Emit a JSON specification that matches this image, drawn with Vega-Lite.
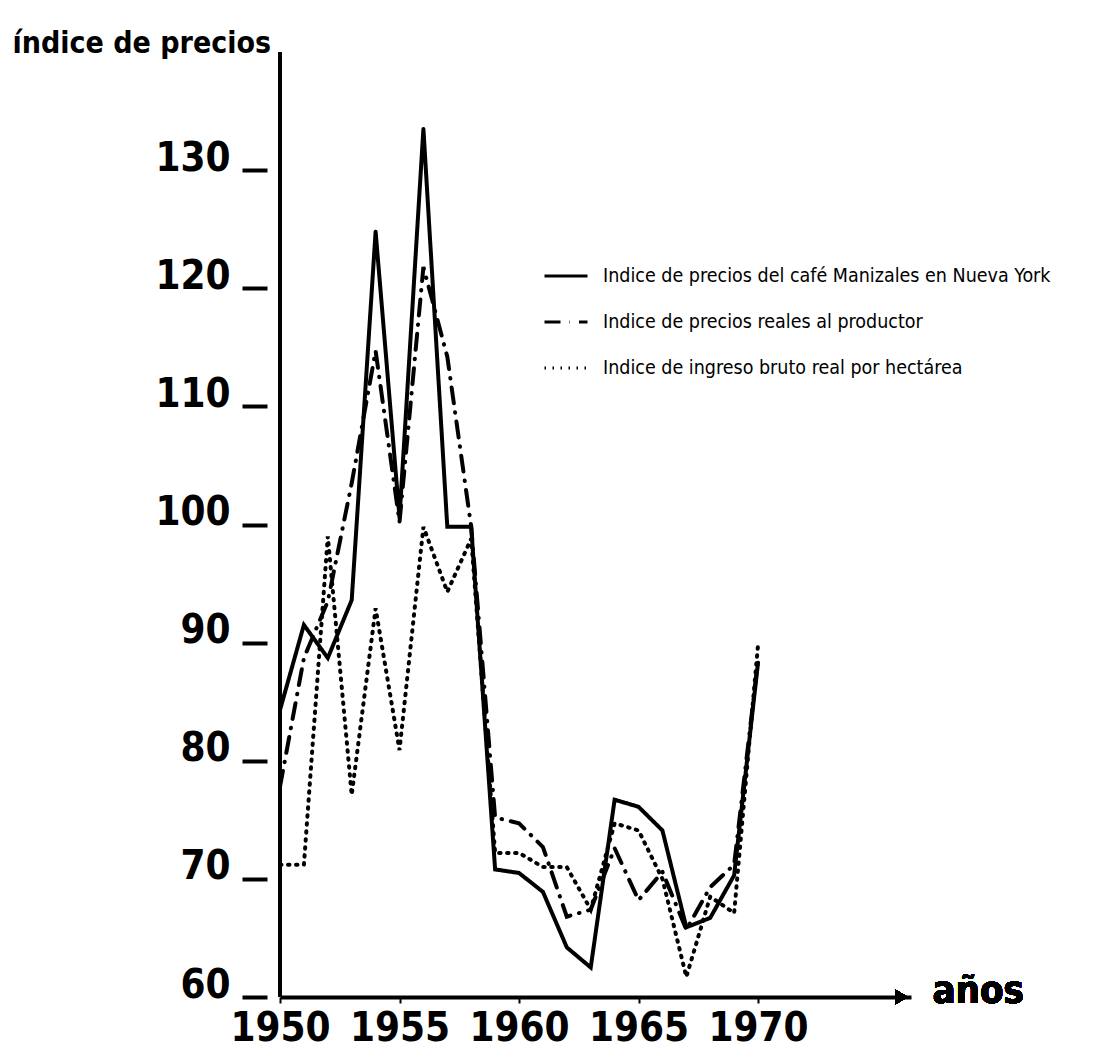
{
  "$schema": "https://vega.github.io/schema/vega-lite/v6.json",
  "width": 631,
  "height": 945,
  "autosize": {"type": "none"},
  "padding": {"left": 280, "top": 52, "right": 186, "bottom": 58},
  "background": "white",
  "config": {"view": {"stroke": null}, "font": "DejaVu Sans Condensed, Liberation Sans, sans-serif"},
  "data": {
    "values": [
      {"anio": 1950, "serie": "Indice de precios del café Manizales en Nueva York", "indice": 84.3},
      {"anio": 1951, "serie": "Indice de precios del café Manizales en Nueva York", "indice": 91.5},
      {"anio": 1952, "serie": "Indice de precios del café Manizales en Nueva York", "indice": 88.7},
      {"anio": 1953, "serie": "Indice de precios del café Manizales en Nueva York", "indice": 93.6},
      {"anio": 1954, "serie": "Indice de precios del café Manizales en Nueva York", "indice": 124.8},
      {"anio": 1955, "serie": "Indice de precios del café Manizales en Nueva York", "indice": 100.6},
      {"anio": 1956, "serie": "Indice de precios del café Manizales en Nueva York", "indice": 133.5},
      {"anio": 1957, "serie": "Indice de precios del café Manizales en Nueva York", "indice": 99.8},
      {"anio": 1958, "serie": "Indice de precios del café Manizales en Nueva York", "indice": 99.8},
      {"anio": 1959, "serie": "Indice de precios del café Manizales en Nueva York", "indice": 70.8},
      {"anio": 1960, "serie": "Indice de precios del café Manizales en Nueva York", "indice": 70.5},
      {"anio": 1961, "serie": "Indice de precios del café Manizales en Nueva York", "indice": 68.9},
      {"anio": 1962, "serie": "Indice de precios del café Manizales en Nueva York", "indice": 64.2},
      {"anio": 1963, "serie": "Indice de precios del café Manizales en Nueva York", "indice": 62.5},
      {"anio": 1964, "serie": "Indice de precios del café Manizales en Nueva York", "indice": 76.7},
      {"anio": 1965, "serie": "Indice de precios del café Manizales en Nueva York", "indice": 76.1},
      {"anio": 1966, "serie": "Indice de precios del café Manizales en Nueva York", "indice": 74.1},
      {"anio": 1967, "serie": "Indice de precios del café Manizales en Nueva York", "indice": 65.9},
      {"anio": 1968, "serie": "Indice de precios del café Manizales en Nueva York", "indice": 66.7},
      {"anio": 1969, "serie": "Indice de precios del café Manizales en Nueva York", "indice": 70.3},
      {"anio": 1970, "serie": "Indice de precios del café Manizales en Nueva York", "indice": 88.3},
      {"anio": 1950, "serie": "Indice de precios reales al productor", "indice": 77.8},
      {"anio": 1951, "serie": "Indice de precios reales al productor", "indice": 88.7},
      {"anio": 1952, "serie": "Indice de precios reales al productor", "indice": 93.5},
      {"anio": 1953, "serie": "Indice de precios reales al productor", "indice": 103.5},
      {"anio": 1954, "serie": "Indice de precios reales al productor", "indice": 114.7},
      {"anio": 1955, "serie": "Indice de precios reales al productor", "indice": 100.2},
      {"anio": 1956, "serie": "Indice de precios reales al productor", "indice": 121.8},
      {"anio": 1957, "serie": "Indice de precios reales al productor", "indice": 114.2},
      {"anio": 1958, "serie": "Indice de precios reales al productor", "indice": 99.8},
      {"anio": 1959, "serie": "Indice de precios reales al productor", "indice": 75.2},
      {"anio": 1960, "serie": "Indice de precios reales al productor", "indice": 74.7},
      {"anio": 1961, "serie": "Indice de precios reales al productor", "indice": 72.7},
      {"anio": 1962, "serie": "Indice de precios reales al productor", "indice": 66.8},
      {"anio": 1963, "serie": "Indice de precios reales al productor", "indice": 67.4},
      {"anio": 1964, "serie": "Indice de precios reales al productor", "indice": 72.6},
      {"anio": 1965, "serie": "Indice de precios reales al productor", "indice": 68.2},
      {"anio": 1966, "serie": "Indice de precios reales al productor", "indice": 70.6},
      {"anio": 1967, "serie": "Indice de precios reales al productor", "indice": 65.7},
      {"anio": 1968, "serie": "Indice de precios reales al productor", "indice": 69.3},
      {"anio": 1969, "serie": "Indice de precios reales al productor", "indice": 71.2},
      {"anio": 1970, "serie": "Indice de precios reales al productor", "indice": 88.5},
      {"anio": 1950, "serie": "Indice de ingreso bruto real por hectárea", "indice": 71.2},
      {"anio": 1951, "serie": "Indice de ingreso bruto real por hectárea", "indice": 71.2},
      {"anio": 1952, "serie": "Indice de ingreso bruto real por hectárea", "indice": 99.0},
      {"anio": 1953, "serie": "Indice de ingreso bruto real por hectárea", "indice": 77.1},
      {"anio": 1954, "serie": "Indice de ingreso bruto real por hectárea", "indice": 92.9},
      {"anio": 1955, "serie": "Indice de ingreso bruto real por hectárea", "indice": 80.9},
      {"anio": 1956, "serie": "Indice de ingreso bruto real por hectárea", "indice": 99.8},
      {"anio": 1957, "serie": "Indice de ingreso bruto real por hectárea", "indice": 94.3},
      {"anio": 1958, "serie": "Indice de ingreso bruto real por hectárea", "indice": 98.8},
      {"anio": 1959, "serie": "Indice de ingreso bruto real por hectárea", "indice": 72.2},
      {"anio": 1960, "serie": "Indice de ingreso bruto real por hectárea", "indice": 72.2},
      {"anio": 1961, "serie": "Indice de ingreso bruto real por hectárea", "indice": 71.0},
      {"anio": 1962, "serie": "Indice de ingreso bruto real por hectárea", "indice": 71.0},
      {"anio": 1963, "serie": "Indice de ingreso bruto real por hectárea", "indice": 67.4},
      {"anio": 1964, "serie": "Indice de ingreso bruto real por hectárea", "indice": 74.7},
      {"anio": 1965, "serie": "Indice de ingreso bruto real por hectárea", "indice": 74.1},
      {"anio": 1966, "serie": "Indice de ingreso bruto real por hectárea", "indice": 70.0},
      {"anio": 1967, "serie": "Indice de ingreso bruto real por hectárea", "indice": 61.7},
      {"anio": 1968, "serie": "Indice de ingreso bruto real por hectárea", "indice": 68.5},
      {"anio": 1969, "serie": "Indice de ingreso bruto real por hectárea", "indice": 67.1},
      {"anio": 1970, "serie": "Indice de ingreso bruto real por hectárea", "indice": 89.8}
    ]
  },
  "layer": [
    {
      "mark": {"type": "rule", "strokeWidth": 4, "color": "black"},
      "encoding": {"x": {"datum": 1950, "type": "quantitative"}}
    },
    {
      "mark": {"type": "line", "color": "black", "strokeWidth": 4, "strokeCap": "round", "strokeJoin": "miter"},
      "encoding": {
        "x": {
          "field": "anio", "type": "quantitative",
          "scale": {"domain": [1950, 1976.4], "nice": false, "zero": false},
          "axis": {
            "values": [1950, 1955, 1960, 1965, 1970], "format": "d", "title": null, "grid": false,
            "labelOverlap": false, "labelFlush": false,
            "domain": true, "domainWidth": 4, "domainColor": "black",
            "tickSize": 6, "tickWidth": 2, "tickColor": "black",
            "labelFont": "DejaVu Sans Condensed, Liberation Sans, sans-serif", "labelFontWeight": "bold", "labelFontSize": 40,
            "labelColor": "black", "labelPadding": 5, "labelBaseline": "top"
          }
        },
        "y": {
          "field": "indice", "type": "quantitative",
          "scale": {"domain": [60, 140], "nice": false, "zero": false},
          "axis": {
            "values": [60, 70, 80, 90, 100, 110, 120, 130], "grid": false, "domain": false, "offset": 13,
            "labelOverlap": false, "labelFlush": false,
            "tickSize": 25, "tickWidth": 4, "tickColor": "black",
            "labelFont": "DejaVu Sans Condensed, Liberation Sans, sans-serif", "labelFontWeight": "bold", "labelFontSize": 40,
            "labelColor": "black", "labelPadding": 12, "labelBaseline": "alphabetic", "labelOffset": 0,
            "title": "índice de precios", "titleAngle": 0, "titleX": -255, "titleY": 0,
            "titleAlign": "left", "titleBaseline": "alphabetic",
            "titleFont": "DejaVu Sans Condensed, Liberation Sans, sans-serif", "titleFontWeight": "bold", "titleFontSize": 30, "titleColor": "black"
          }
        },
        "strokeDash": {
          "field": "serie", "type": "nominal",
          "scale": {
            "domain": ["Indice de precios del café Manizales en Nueva York", "Indice de precios reales al productor", "Indice de ingreso bruto real por hectárea"],
            "range": [[1, 0], [16, 9, 0.5, 9], [1.5, 6.5]]
          },
          "legend": {
            "orient": "none", "legendX": 263, "legendY": 201, "title": null,
            "symbolType": "stroke", "symbolSize": 1849, "symbolStrokeWidth": 3, "symbolStrokeColor": "black",
            "labelFont": "DejaVu Sans Condensed, Liberation Sans, sans-serif", "labelFontSize": 19.5, "labelColor": "black",
            "labelOffset": 14, "rowPadding": 13, "labelLimit": 700
          }
        }
      }
    },
    {
      "mark": {"type": "point", "shape": "triangle-right", "filled": true, "color": "black", "size": 220, "opacity": 1},
      "encoding": {"x": {"datum": 1976}, "y": {"datum": 60}}
    },
    {
      "mark": {"type": "text", "text": "años", "align": "left", "baseline": "middle", "dy": -5, "font": "DejaVu Sans Condensed, Liberation Sans, sans-serif", "fontWeight": "bold", "fontSize": 38, "color": "black"},
      "encoding": {"x": {"datum": 1977.3}, "y": {"datum": 60}}
    }
  ]
}
